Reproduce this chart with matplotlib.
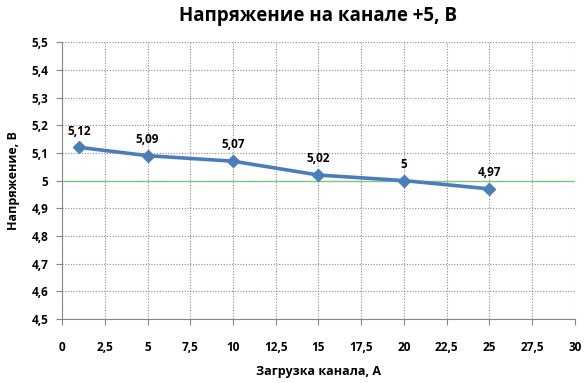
import matplotlib.pyplot as plt
import numpy as np

# данные: ток нагрузки (А) и напряжение на канале +5 (В)
load_a = [1, 5, 10, 15, 20, 25]
voltage_v = [5.12, 5.09, 5.07, 5.02, 5.00, 4.97]
nominal_v = 5.0

x_ticks = np.arange(0, 30.01, 2.5)
y_ticks = np.arange(4.5, 5.501, 0.1)


def ru_num(v):
    s = f'{v:.2f}'.rstrip('0').rstrip('.')
    return s.replace('.', ',')


plt.rcParams['font.family'] = ['Open Sans', 'DejaVu Sans']

fig = plt.figure(figsize=(5.86, 3.83), dpi=100)
ax = fig.add_axes([0.106, 0.167, 0.875, 0.723])

ax.axhline(nominal_v, color='#7fc97f', lw=1.0, zorder=2)
ax.plot(load_a, voltage_v, color='#4a7ebb', lw=2.6, marker='D', ms=6,
        markerfacecolor='#4a7ebb', markeredgecolor='#4a7ebb', zorder=3)

for x, y in zip(load_a, voltage_v):
    ax.annotate(ru_num(y), (x, y), xytext=(0, 7), textcoords='offset points',
                ha='center', va='bottom', fontsize=8.5, fontweight='bold')

ax.set_xlim(0, 30)
ax.set_ylim(4.5, 5.5)
ax.set_xticks(x_ticks)
ax.set_yticks(y_ticks)
ax.set_xticklabels([ru_num(v) for v in x_ticks])
ax.set_yticklabels([ru_num(v) for v in y_ticks])

ax.grid(True, color='#8c8c8c', ls=(0, (1, 1.5)), lw=0.8)
ax.set_axisbelow(True)
for side in ['top', 'right']:
    ax.spines[side].set_visible(False)
for side in ['left', 'bottom']:
    ax.spines[side].set_color('#868686')
ax.tick_params(direction='out', length=4, color='#868686', labelsize=8.5)
ax.tick_params(axis='x', pad=12)
ax.tick_params(axis='y', pad=6)
for lbl in ax.get_xticklabels() + ax.get_yticklabels():
    lbl.set_fontweight('bold')

ax.set_title('Напряжение на канале +5, В', fontsize=13.5, fontweight='bold', pad=15)
ax.set_xlabel('Загрузка канала, А', fontsize=9, fontweight='bold', labelpad=8)
ax.set_ylabel('Напряжение, В', fontsize=9, fontweight='bold', labelpad=8)

fig.savefig('out.png', dpi=100)
